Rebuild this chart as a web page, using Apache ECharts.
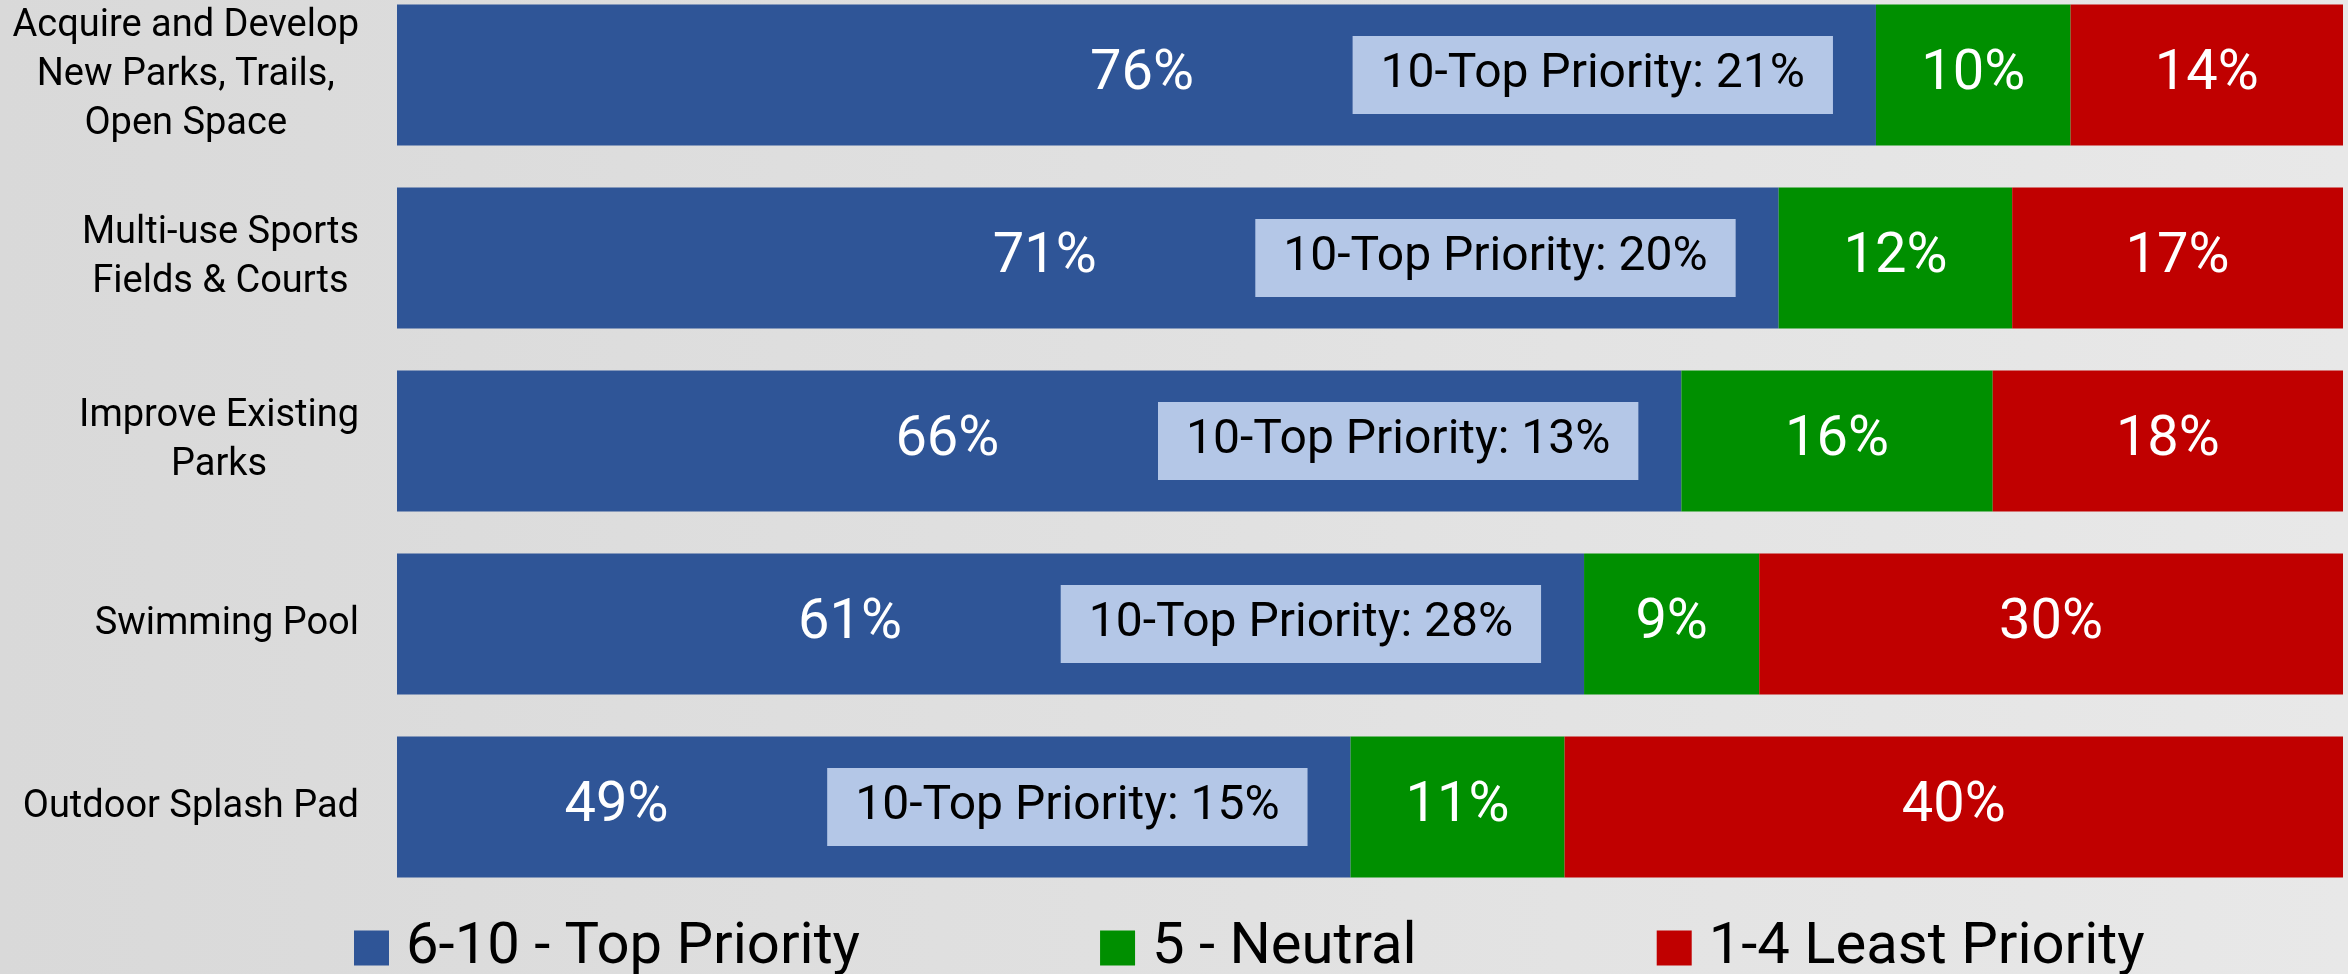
<!DOCTYPE html>
<html>
<head>
<meta charset="utf-8">
<script src="https://cdn.jsdelivr.net/npm/echarts@6/dist/echarts.min.js"></script>
<style>
  html, body { margin: 0; padding: 0; }
  #chart { width: 2348px; height: 974px; }
</style>
</head>
<body>
<div id="chart"></div>
<script>
    'use strict';
    var categories = [
        'Acquire and Develop\nNew Parks, Trails,\nOpen Space',
        'Multi-use Sports\nFields & Courts',
        'Improve Existing\nParks',
        'Swimming Pool',
        'Outdoor Splash Pad'
    ];
    var seriesNames = ['6-10 - Top Priority', '5 - Neutral', '1-4 Least Priority'];
    var topPriority = [76, 71, 66, 61, 49];
    var neutral = [10, 12, 16, 9, 11];
    var leastPriority = [14, 17, 18, 30, 40];
    // share of "10" answers, shown in the light box
    var tenTopPriority = [21, 20, 13, 28, 15];

    var chart = echarts.init(document.getElementById('chart'));

    function pctLabel(extra) {
        var l = {
            show: true,
            position: 'inside',
            color: '#fff',
            fontFamily: 'Roboto',
            fontSize: 56,
            formatter: function (p) { return p.value + '%'; }
        };
        for (var k in extra) l[k] = extra[k];
        return l;
    }

    function barSeries(name, data, color, label) {
        return {
            name: name,
            type: 'bar',
            stack: 'total',
            barWidth: 141,
            data: data,
            itemStyle: { color: color },
            label: label
        };
    }

    var boxData = topPriority.map(function (v, i) {
        return [v, categories[i], tenTopPriority[i]];
    });

    var option = {
        backgroundColor: {
            type: 'linear', x: 0, y: 0, x2: 1, y2: 0,
            colorStops: [
                { offset: 0, color: '#d9d9d9' },
                { offset: 1, color: '#e8e8e8' }
            ]
        },
        textStyle: { fontFamily: 'Roboto' },
        // category points sit on the grid edges, bars 183px apart
        grid: { left: 397, right: 5, top: 75, height: 732 },
        legend: {
            data: seriesNames,
            left: 349,
            top: 914,
            icon: 'rect',
            itemWidth: 35,
            itemHeight: 35,
            itemGap: 240,
            textStyle: { fontSize: 58, color: '#000', padding: [0, 0, 0, 12] }
        },
        xAxis: {
            type: 'value',
            min: 0,
            max: 100,
            show: false
        },
        yAxis: {
            type: 'category',
            data: categories,
            inverse: true,
            boundaryGap: false,
            axisLine: { show: false },
            axisTick: { show: false },
            splitLine: { show: false },
            axisLabel: {
                margin: 38,
                color: '#000',
                fontSize: 38,
                lineHeight: 49,
                formatter: function (v) {
                    return v.split('\n').map(function (l) { return '{c|' + l + '}'; }).join('\n');
                },
                rich: {
                    c: { align: 'center', fontSize: 38, lineHeight: 49, color: '#000' }
                }
            }
        },
        series: [
            // blue label sits left of the light box
            barSeries(seriesNames[0], topPriority, '#2f5597',
                pctLabel({ position: 'insideRight', offset: [-677, 0] })),
            barSeries(seriesNames[1], neutral, '#008f00', pctLabel({})),
            barSeries(seriesNames[2], leastPriority, '#c00000', pctLabel({})),
            {
                name: 'box',
                type: 'scatter',
                data: boxData,
                symbolSize: 2,
                itemStyle: { color: 'rgba(0,0,0,0)', opacity: 1 },
                silent: true,
                z: 5,
                label: {
                    show: true,
                    opacity: 1,
                    position: 'left',
                    distance: 42,
                    color: '#000',
                    fontSize: 48,
                    lineHeight: 56,
                    backgroundColor: '#b4c7e7',
                    padding: [11, 28],
                    formatter: function (p) { return '10-Top Priority: ' + p.value[2] + '%'; }
                }
            }
        ]
    };
    chart.setOption(option);
</script>
</body>
</html>
